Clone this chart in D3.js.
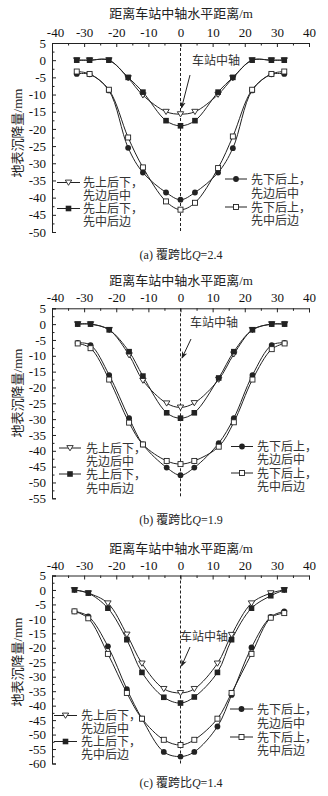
<!DOCTYPE html>
<html><head><meta charset="utf-8">
<script src="https://cdn.jsdelivr.net/npm/d3@7"></script>
<style>
body{margin:0;background:#fff;}
svg{display:block;}
text{font-family:"Liberation Serif","Noto Sans CJK SC",serif;}
</style></head>
<body>
<svg id="chart" width="328" height="796"></svg>
<script>
// ---------- data ----------
const xTicks = [-40,-30,-20,-10,0,10,20,30,40];
const xTitle = "距离车站中轴水平距离/m";
const yTitle = "地表沉降量/mm";
const axisNote = "车站中轴";
const seriesNames = [["先上后下，","先边后中"],["先上后下，","先中后边"],["先下后上，","先边后中"],["先下后上，","先中后边"]];
const captions = ["(a) 覆跨比","(b) 覆跨比","(c) 覆跨比"];
const ratios = ["2.4","1.9","1.4"];

const xPosA = [-32.3,-28.3,-22.3,-16.3,-11.7,-4.5,0,4.5,11.7,16.3,22.3,28.3,32.3];
const a1 = [0,0,0,-5.2,-10.2,-15,-15.7,-15,-10,-5.2,0,0,0];
const a2 = [0,0,0,-5,-9.3,-17.6,-19.1,-17.6,-9.3,-5,0,0,0];
const a3 = [-4,-4.1,-8.8,-25.5,-32.7,-38.5,-40.6,-38.5,-32.7,-25.6,-8.8,-4.1,-4];
const a4 = [-3.3,-4,-8.6,-22.5,-31.2,-41.1,-43.5,-41.5,-31.4,-22.2,-8.6,-4,-3.3];

const xPosB = [-32,-28,-22.2,-16,-11.7,-4.3,0,4.3,11.9,16.6,22.4,28.4,32.4];
const b1 = [0,0,-1.8,-9.8,-17.8,-25,-26.3,-24.9,-17.5,-9.5,-1.8,0,0];
const b2 = [0,0,-1.8,-8.7,-16.4,-28,-29.7,-28,-17,-8.7,-1.8,0,0];
const b3 = [-5.9,-6.6,-16.1,-29.7,-38,-45.3,-47.7,-45.3,-37.6,-29.7,-16.1,-6.6,-5.9];
const b4 = [-6.1,-7.6,-17.5,-31.1,-38,-43.2,-44.2,-43.2,-38.7,-31,-17.5,-7.9,-6.1];

const xPosC = [-33,-28.7,-22.6,-16.7,-12,-5.2,0,4.3,11.5,15.9,22.1,28.1,32.3];
const c1 = [0,-1.1,-4.6,-15.4,-25.4,-34.2,-35.6,-34.2,-25.4,-15.5,-4.6,-1.1,0];
const c2 = [0,-1.1,-6.3,-17.2,-28.5,-37.1,-39.1,-37,-28.5,-17.2,-6.3,-2,0];
const c3 = [-7.4,-9.1,-19.5,-34.3,-44.5,-56,-57.6,-56,-47.2,-36.3,-19.9,-9.3,-7.4];
const c4 = [-7.4,-9.8,-22.1,-35.6,-44.5,-51.8,-53.6,-51.8,-44.5,-35.6,-22.1,-9.6,-8];

const yMins = [-50,-55,-60];

// ---------- layout ----------
const panels = [
  {xs:xPosA, series:[a1,a2,a3,a4], ymin:yMins[0], top:43, bottom:232, titleY:18, capY:259,
   legL:{x1:57,x2:80,tx:83,ys:[182.5,195.5,208.5,221.5]}, legR:{x1:225,x2:247,tx:251,ys:[179,193,207,220]},
   note:{tx:192,ty:65,ax1:190,ay1:75,ax2:181.5,ay2:108}, ylabY:133},
  {xs:xPosB, series:[b1,b2,b3,b4], ymin:yMins[1], top:308.3, bottom:498.3, titleY:285, capY:524,
   legL:{x1:59,x2:81,tx:86,ys:[448,461,474,488]}, legR:{x1:231,x2:253,tx:257,ys:[446.5,459.5,473,486]},
   note:{tx:190,ty:327,ax1:191,ay1:339,ax2:182,ay2:358}, ylabY:393},
  {xs:xPosC, series:[c1,c2,c3,c4], ymin:yMins[2], top:575.5, bottom:763.5, titleY:553, capY:787,
   legL:{x1:54,x2:77,tx:81,ys:[715.5,728.5,741.5,754.5]}, legR:{x1:230,x2:253,tx:257,ys:[709,723,737,750]},
   note:{tx:180,ty:641,ax1:190,ay1:647,ax2:181.5,ay2:666}, ylabY:662}
];

const svg = d3.select("#chart");
const defs = svg.append("defs");
defs.append("marker").attr("id","arr").attr("viewBox","0 0 10 10").attr("refX",9).attr("refY",5)
  .attr("markerWidth",7).attr("markerHeight",7).attr("orient","auto")
  .append("path").attr("d","M0,1 L10,5 L0,9 L3,5 Z").attr("fill","#222");

const ink = "#222";
const x = d3.scaleLinear().domain([-40,40]).range([52,309]);
const fmt = d => String(d);

function drawMarker(g, type, cx, cy){
  if(type===0){ // open triangle down
    g.append("path").attr("d",`M${cx-3.2},${cy-2.4} L${cx+3.2},${cy-2.4} L${cx},${cy+2.8} Z`)
     .attr("fill","#fff").attr("stroke",ink).attr("stroke-width",0.9);
  } else if(type===1){ // filled square
    g.append("rect").attr("x",cx-2.8).attr("y",cy-2.8).attr("width",5.6).attr("height",5.6).attr("fill",ink);
  } else if(type===2){ // filled circle
    g.append("circle").attr("cx",cx).attr("cy",cy).attr("r",2.9).attr("fill",ink);
  } else { // open square
    g.append("rect").attr("x",cx-2.5).attr("y",cy-2.5).attr("width",5).attr("height",5)
     .attr("fill","#fff").attr("stroke",ink).attr("stroke-width",0.9);
  }
}

panels.forEach((p,pi)=>{
  const g = svg.append("g");
  const y = d3.scaleLinear().domain([5,p.ymin]).range([p.top,p.bottom]);

  // x axis (top)
  const xa = g.append("g").attr("transform",`translate(0,${p.top})`)
    .call(d3.axisTop(x).tickValues(xTicks).tickSize(-4).tickPadding(6).tickFormat(fmt));
  xa.selectAll(".tick text").filter(d=>d===-40).attr("dx",3);
  g.append("g").attr("transform",`translate(0,${p.top})`)
    .call(d3.axisTop(x).tickValues(d3.range(-35,40,10)).tickSize(-2.5).tickFormat(""))
    .select(".domain").remove();
  // y axis (left)
  const yTickVals = d3.range(5, p.ymin-0.1, -5);
  g.append("g").attr("transform",`translate(${x(-40)},0)`)
    .call(d3.axisLeft(y).tickValues(yTickVals).tickSize(-4).tickPadding(6).tickFormat(fmt));
  g.append("g").attr("transform",`translate(${x(-40)},0)`)
    .call(d3.axisLeft(y).tickValues(d3.range(2.5, p.ymin, -5)).tickSize(-2.5).tickFormat(""))
    .select(".domain").remove();
  g.selectAll(".domain").attr("stroke",ink).attr("stroke-width",1);
  g.selectAll(".tick line").attr("stroke",ink);
  g.selectAll(".tick text").attr("font-size",13).attr("fill","#111")
    .style("font-family","'Liberation Serif',serif");

  // titles
  g.append("text").attr("x",181).attr("y",p.titleY).attr("text-anchor","middle")
    .attr("font-size",13).attr("fill","#222").text(xTitle);
  g.append("text").attr("transform",`translate(22,${p.ylabY}) rotate(-90)`).attr("text-anchor","middle")
    .attr("font-size",13).attr("fill","#222").text(yTitle);
  const cap = g.append("text").attr("x",181).attr("y",p.capY).attr("text-anchor","middle")
    .attr("font-size",12).attr("fill","#222");
  cap.append("tspan").text(captions[pi]);
  cap.append("tspan").attr("font-style","italic").text("Q");
  cap.append("tspan").text("="+ratios[pi]);

  // center dashed line
  g.append("line").attr("x1",x(0)).attr("x2",x(0)).attr("y1",p.top).attr("y2",p.bottom)
    .attr("stroke",ink).attr("stroke-width",1).attr("stroke-dasharray","3,2");

  // curves
  const line = d3.line().x(d=>x(d[0])).y(d=>y(d[1])).curve(d3.curveCatmullRom.alpha(0.5));
  p.series.forEach((s,si)=>{
    const pts = p.xs.map((xv,i)=>[xv,s[i]]);
    g.append("path").attr("d",line(pts)).attr("fill","none").attr("stroke",ink).attr("stroke-width",1);
  });
  p.series.forEach((s,si)=>{
    p.xs.forEach((xv,i)=>drawMarker(g,si,x(xv),y(s[i])));
  });

  // annotation
  g.append("text").attr("x",p.note.tx).attr("y",p.note.ty).attr("font-size",12).attr("fill","#333").text(axisNote);
  g.append("line").attr("x1",p.note.ax1).attr("y1",p.note.ay1).attr("x2",p.note.ax2).attr("y2",p.note.ay2)
    .attr("stroke",ink).attr("stroke-width",1).attr("marker-end","url(#arr)");

  // legends (each entry: one text, wrapped onto two lines)
  [[p.legL,0],[p.legL,1],[p.legR,2],[p.legR,3]].forEach(([L,si])=>{
    const k = si%2;
    const yy = L.ys[k*2];
    g.append("line").attr("x1",L.x1).attr("x2",L.x2).attr("y1",yy).attr("y2",yy).attr("stroke",ink).attr("stroke-width",1);
    drawMarker(g,si,(L.x1+L.x2)/2,yy);
    const t = g.append("text").attr("x",L.tx).attr("y",yy+4.5).attr("font-size",12).attr("fill","#333");
    t.append("tspan").attr("x",L.tx).text(seriesNames[si][0]);
    t.append("tspan").attr("x",L.tx).attr("dy",L.ys[k*2+1]-yy).text(seriesNames[si][1]);
  });
});
</script>
</body></html>
